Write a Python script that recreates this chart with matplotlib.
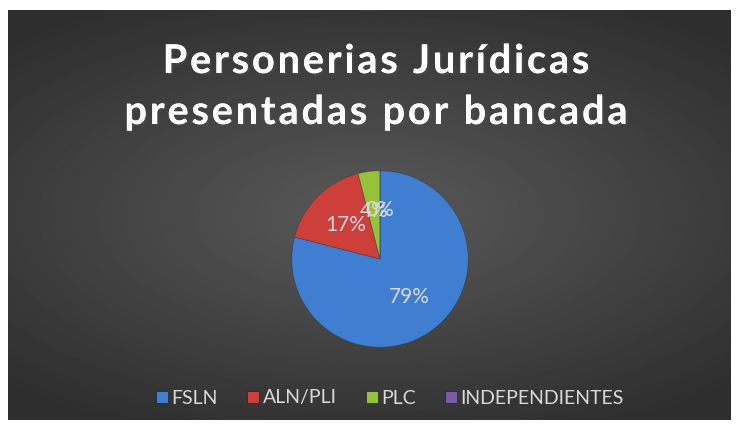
import matplotlib.pyplot as plt
import matplotlib.patheffects as pe
from matplotlib.lines import Line2D
from matplotlib.font_manager import FontProperties, findfont
from matplotlib.ft2font import FT2Font
import numpy as np

labels = ["FSLN", "ALN/PLI", "PLC", "INDEPENDIENTES"]
values = [79, 17, 4, 0]
colors = ["#3F7ED0", "#CC3F3B", "#96C23A", "#7A5BA6"]
title_lines = ["Personerias Jurídicas", "presentadas por bancada"]

plt.rcParams['font.family'] = ['Lato', 'DejaVu Sans']

W, H = 738, 430
fig = plt.figure(figsize=(W / 100, H / 100), dpi=100, facecolor="white")

# dark radial background
bg = fig.add_axes([8/W, 10/H, 723/W, 410/H])
yy, xx = np.mgrid[-1:1:300j, -1:1:500j]
r = np.sqrt((xx * 0.9) ** 2 + (yy * 1.1) ** 2)
bg.imshow(0.35 - 0.17 * np.clip(r, 0, 1.3) / 1.3, cmap="gray", vmin=0, vmax=1,
          aspect="auto", extent=[0, 1, 0, 1])
bg.set_axis_off()

# title with letter spacing, drawn char by char
tsize = 28.5
prop = FontProperties(family="Lato", weight="bold", size=tsize)
ft = FT2Font(findfont(prop))
ft.set_size(tsize, 72)


def advances(s):
    return [ft.load_char(ord(c)).linearHoriAdvance / 65536 * 100 / 72 for c in s]


nat2 = sum(advances(title_lines[1]))
track = (503 - nat2) / (len(title_lines[1]) - 1)
shadow = [pe.withSimplePatchShadow(offset=(1.5, -1.5), alpha=0.5), pe.Normal()]
for line, base in zip(title_lines, [73, 124]):
    adv = advances(line)
    total = sum(adv) + track * (len(line) - 1)
    x = W / 2 + 7 - total / 2
    for c, a in zip(line, adv):
        if c != " ":
            fig.text(x / W, 1 - base / H, c, ha="left", va="baseline",
                     color="white", fontproperties=prop, path_effects=shadow)
        x += a + track

cx, cy, rad = 380, H - 259, 90
ax = fig.add_axes([(cx - rad)/W, (cy - rad)/H, 2*rad/W, 2*rad/H])
wedges, texts, autotexts = ax.pie(values, colors=colors, startangle=90,
                                  counterclock=False, autopct="%1.0f%%",
                                  pctdistance=0.55,
                                  wedgeprops=dict(edgecolor="#33333380", linewidth=0.5),
                                  textprops=dict(color="#D9D9D9", fontsize=15))
ax.set_xlim(-1.02, 1.02)
ax.set_ylim(-1.02, 1.02)

handles = [Line2D([], [], marker="s", linestyle="none", markersize=9,
                  markerfacecolor=c, markeredgecolor="#222222", markeredgewidth=0.5)
           for c in colors]
fig.legend(handles, labels, loc="center", bbox_to_anchor=(388/W, 1 - 398/H),
           ncol=4, frameon=False, fontsize=14, labelcolor="#D9D9D9",
           handletextpad=0.0, columnspacing=1.3, handlelength=1.0)

fig.savefig("out.png", dpi=100, facecolor="white")
